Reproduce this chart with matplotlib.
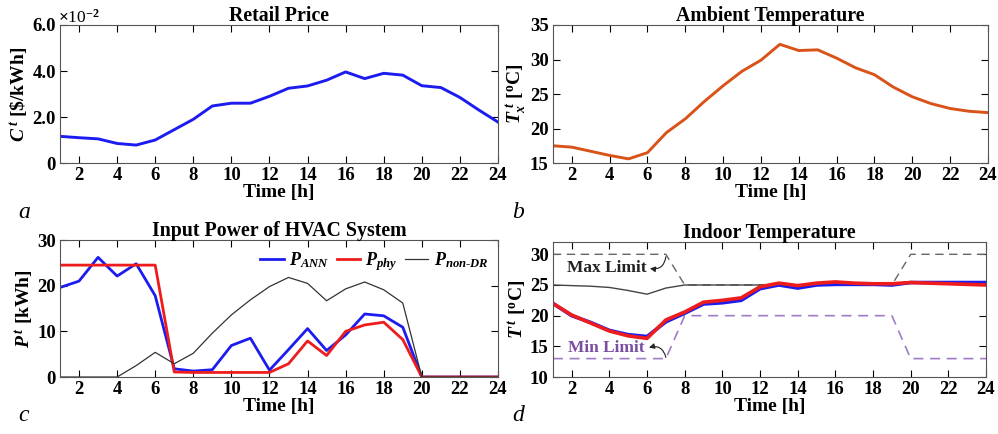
import numpy as np
from matplotlib import pyplot as plt
from matplotlib.ticker import FuncFormatter

plt.rcParams['font.family'] = ['Liberation Serif', 'DejaVu Serif']
plt.rcParams['font.weight'] = 'bold'
plt.rcParams['axes.labelweight'] = 'bold'
plt.rcParams['axes.titleweight'] = 'bold'
plt.rcParams['font.size'] = 13.5
plt.rcParams['axes.titlesize'] = 14.3
plt.rcParams['axes.labelsize'] = 14
plt.rcParams['mathtext.fontset'] = 'custom'
plt.rcParams['mathtext.it'] = 'Liberation Serif:italic:bold'
plt.rcParams['mathtext.rm'] = 'Liberation Serif:bold'
plt.rcParams['mathtext.bf'] = 'Liberation Serif:bold'

hours = np.arange(1, 25)

# retail price [$/kWh]
price = np.array([1.16, 1.10, 1.05, 0.85, 0.78, 1.00, 1.45, 1.90, 2.48, 2.60, 2.60, 2.90,
                  3.25, 3.35, 3.60, 3.96, 3.67, 3.90, 3.82, 3.36, 3.28, 2.85, 2.30, 1.78]) * 1e-2

# ambient temperature [C]
t_amb = [17.5, 17.3, 16.7, 16.1, 15.6, 16.5, 19.4, 21.4, 23.9, 26.2, 28.3, 29.9,
         32.2, 31.3, 31.4, 30.2, 28.8, 27.8, 26.0, 24.6, 23.6, 22.9, 22.5, 22.3]

# HVAC input power [kWh]
p_ann = [19.6, 21.0, 26.2, 22.1, 24.8, 17.8, 1.8, 1.3, 1.6, 6.9, 8.5, 1.5,
         6.0, 10.6, 5.8, 9.2, 13.8, 13.4, 10.9, 0, 0, 0, 0, 0]
p_phy = [24.5, 24.5, 24.5, 24.5, 24.5, 24.5, 1.1, 1.0, 1.0, 1.0, 1.0, 1.0,
         2.9, 7.9, 4.7, 10.0, 11.4, 12.0, 8.2, 0, 0, 0, 0, 0]
p_nondr = [0, 0, 0, 0, 2.5, 5.4, 2.9, 5.2, 9.6, 13.6, 16.9, 19.8,
           21.8, 20.5, 16.7, 19.3, 20.8, 19.1, 16.2, 0, 0, 0, 0, 0]

# indoor temperature [C]
t_ann = [22.0, 20.0, 18.9, 17.6, 16.9, 16.6, 19.0, 20.4, 21.9, 22.1, 22.5, 24.4,
         25.0, 24.5, 25.0, 25.1, 25.1, 25.1, 25.0, 25.4, 25.4, 25.4, 25.4, 25.4]
t_phy = [22.0, 20.1, 18.8, 17.5, 16.7, 16.3, 19.3, 20.6, 22.2, 22.5, 22.9, 24.7,
         25.3, 24.9, 25.3, 25.5, 25.3, 25.2, 25.2, 25.4, 25.3, 25.2, 25.1, 25.0]
t_nondr = [25.0, 24.9, 24.8, 24.6, 24.1, 23.5, 24.5, 25.0, 25.0, 25.0, 25.0, 25.0,
           25.0, 25.0, 25.0, 25.0, 25.0, 25.0, 25.0, 25.3, 25.3, 25.3, 25.3, 25.3]
t_max = [30, 30, 30, 30, 30, 30, 30, 25, 25, 25, 25, 25,
         25, 25, 25, 25, 25, 25, 25, 30, 30, 30, 30, 30]
t_min = [13, 13, 13, 13, 13, 13, 13, 20, 20, 20, 20, 20,
         20, 20, 20, 20, 20, 20, 20, 13, 13, 13, 13, 13]

fig = plt.figure(figsize=(9.98, 4.34), dpi=100)


def style(ax):
    ax.set_xlim(1, 24)
    ax.set_xticks(range(2, 25, 2))
    ax.tick_params(direction='in', top=True, right=True, length=5, width=0.8, pad=3)
    for s in ax.spines.values():
        s.set_linewidth(0.8)
        s.set_color('#555555')
    ax.set_xlabel('Time [h]', labelpad=0)


# a) retail price
ax1 = fig.add_axes([0.0601, 0.6244, 0.4389, 0.318])
ax1.plot(hours, price, color='#1c1cf0', lw=2.1)
ax1.set_ylim(0, 0.06)
ax1.set_yticks([0, 0.02, 0.04, 0.06])
ax1.yaxis.set_major_formatter(FuncFormatter(lambda v, p: '0' if v == 0 else f'{v*100:.1f}'))
style(ax1)
ax1.text(-0.005, 0.99, r'$\times$10$^{-2}$', transform=ax1.transAxes, fontsize=12.5,
         fontweight='normal', va='bottom', ha='left')
ax1.set_title('Retail Price', pad=3)
ax1.set_ylabel(r'$C^{\,t}$ [\$/kWh]', labelpad=1)

# b) ambient temperature
ax2 = fig.add_axes([0.554, 0.6244, 0.4359, 0.318])
ax2.plot(hours, t_amb, color='#d95319', lw=2.1)
ax2.set_ylim(15, 35)
ax2.set_yticks(range(15, 36, 5))
style(ax2)
ax2.set_title('Ambient Temperature', pad=3)
ax2.set_ylabel(r'$T_x^{\ t}$ [$^{\rm o}$C]', labelpad=1)

# c) HVAC power
ax3 = fig.add_axes([0.0601, 0.1313, 0.4389, 0.3157])
ax3.plot(hours, p_ann, color='#1c1cf0', lw=2.0, label=r'$P_{ANN}$')
ax3.plot(hours, p_phy, color='#ee1c1c', lw=2.0, label=r'$P_{phy}$')
ax3.plot(hours, p_nondr, color='#333333', lw=0.9, label=r'$P_{non\text{-}DR}$')
ax3.set_ylim(0, 30)
ax3.set_yticks([0, 10, 20, 30])
style(ax3)
ax3.set_title('Input Power of HVAC System', pad=3)
ax3.set_ylabel(r'$P^{\,t}$ [kWh]', labelpad=1)
ax3.legend(loc='upper right', ncol=3, frameon=False, handlelength=1.3, handletextpad=0.3,
           columnspacing=0.4, borderaxespad=0.15, fontsize=13)

# d) indoor temperature
ax4 = fig.add_axes([0.554, 0.1313, 0.434, 0.311])
ax4.plot(hours, t_max, color='#666666', lw=1.0, ls=(0, (6, 4)))
ax4.plot(hours, t_min, color='#a07cc8', lw=1.2, ls=(0, (6, 4)))
ax4.plot(hours, t_nondr, color='#444444', lw=1.0)
ax4.plot(hours, t_ann, color='#1c1cf0', lw=2.6)
ax4.plot(hours, t_phy, color='#ee1c1c', lw=2.6)
ax4.set_ylim(10, 32)
ax4.set_yticks(range(10, 31, 5))
style(ax4)
ax4.set_title('Indoor Temperature', pad=3)
ax4.set_ylabel(r'$T^{\,t}$ [$^{\rm o}$C]', labelpad=1)
ax4.text(1.75, 27.7, 'Max Limit', fontsize=12.5, fontweight='bold', color='#222222', va='center')
ax4.annotate('', xy=(6.15, 27.7), xytext=(7.0, 29.6),
             arrowprops=dict(arrowstyle='-|>', color='#222222', lw=0.8,
                             mutation_scale=8, shrinkA=0, shrinkB=0,
                             connectionstyle='arc3,rad=-0.5'))
ax4.text(1.8, 14.75, 'Min Limit', fontsize=12.5, fontweight='bold', color='#7a4fa3', va='center')
ax4.annotate('', xy=(6.1, 14.8), xytext=(7.0, 13.2),
             arrowprops=dict(arrowstyle='-|>', color='#222222', lw=0.8,
                             mutation_scale=8, shrinkA=0, shrinkB=0,
                             connectionstyle='arc3,rad=0.5'))

for ax in (ax1, ax2, ax3, ax4):
    plt.setp(ax.get_xticklabels() + ax.get_yticklabels(), fontweight='bold')

# panel letters
for x, y, s in [(0.018, 0.497, 'a'), (0.513, 0.497, 'b'), (0.018, 0.03, 'c'), (0.513, 0.03, 'd')]:
    fig.text(x, y, s, fontsize=17, style='italic', fontweight='normal')

fig.savefig('out.png', dpi=100)
